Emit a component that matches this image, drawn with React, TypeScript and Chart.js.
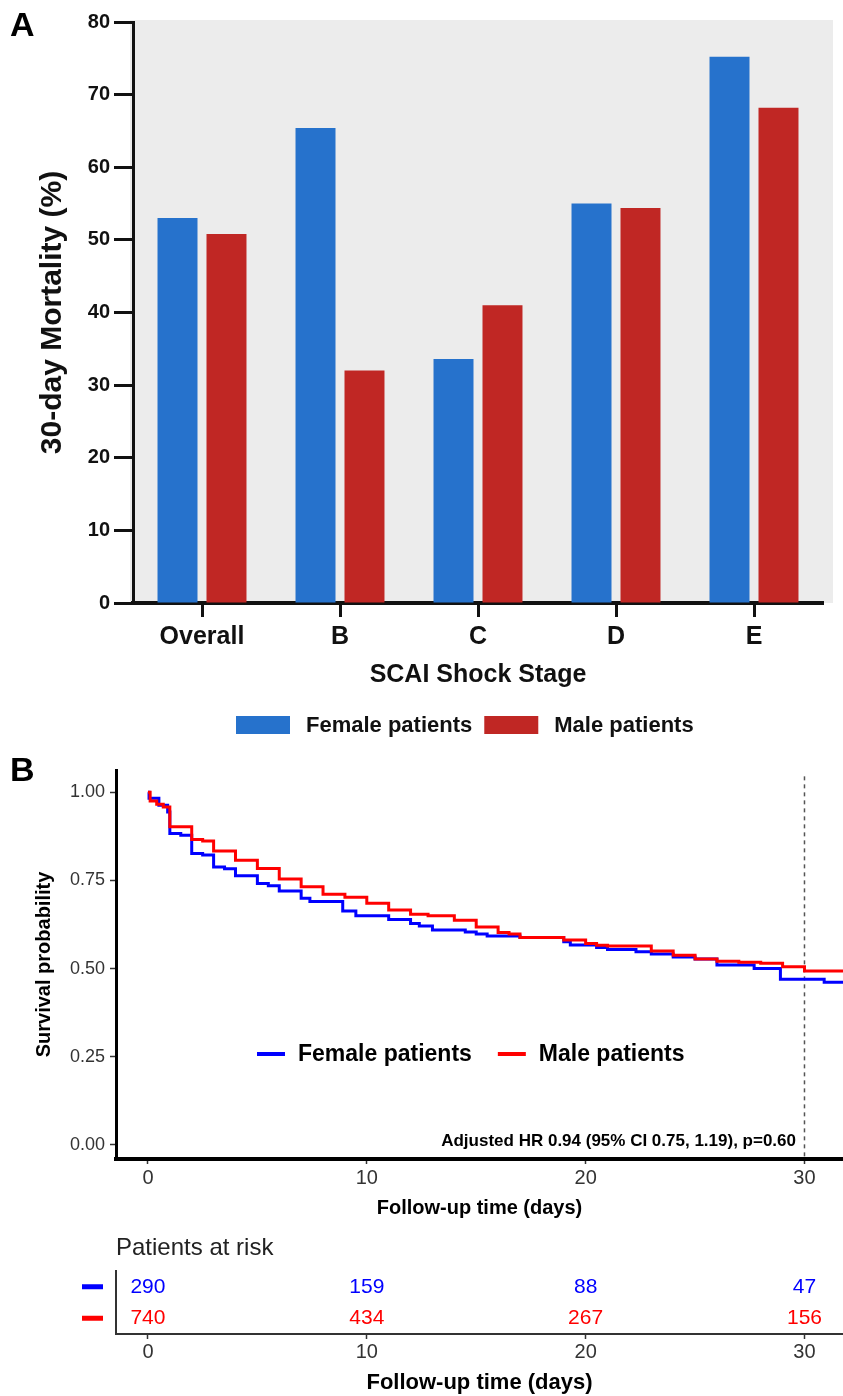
import React, { useEffect, useRef } from 'react';
import { Chart, registerables } from 'chart.js';

Chart.register(...registerables);

// ---------- Data ----------
const stages = ['Overall', 'B', 'C', 'D', 'E'];
const seriesNames = ['Female patients', 'Male patients'];
const femaleMortality = [53.0, 65.4, 33.6, 55.0, 75.2];
const maleMortality = [50.8, 32.0, 41.0, 54.4, 68.2];

const femaleDays = [0, 0.05, 0.5, 0.9, 1.0, 1.5, 2.0, 2.5, 3.0, 3.5, 4.0, 5.0, 5.5, 6.0, 7.0, 7.4, 8.9, 9.5, 11.0, 12.0, 12.4, 13.0, 14.5, 15.0, 15.5, 17.0, 19.0, 19.3, 20.5, 21.0, 22.3, 23.0, 24.0, 25.0, 26.0, 27.7, 28.9, 30.9, 31.76];
const femaleSurvival = [1.0, 0.983, 0.963, 0.944, 0.883, 0.878, 0.826, 0.822, 0.788, 0.783, 0.763, 0.741, 0.735, 0.72, 0.699, 0.69, 0.663, 0.65, 0.639, 0.628, 0.621, 0.609, 0.604, 0.598, 0.592, 0.588, 0.576, 0.567, 0.56, 0.554, 0.548, 0.541, 0.533, 0.527, 0.51, 0.5, 0.47, 0.461, 0.461];
const maleDays = [0, 0.1, 0.4, 0.7, 1.0, 2.0, 2.5, 3.0, 4.0, 5.0, 6.0, 7.0, 8.0, 9.0, 10.0, 11.0, 12.0, 12.8, 14.0, 15.0, 16.0, 16.5, 17.0, 19.0, 20.0, 20.5, 21.0, 23.0, 24.0, 25.0, 26.0, 27.0, 28.0, 29.0, 30.0, 31.76];
const maleSurvival = [1.0, 0.975, 0.966, 0.958, 0.902, 0.866, 0.862, 0.833, 0.807, 0.784, 0.754, 0.732, 0.711, 0.702, 0.685, 0.666, 0.654, 0.65, 0.637, 0.618, 0.602, 0.598, 0.588, 0.581, 0.571, 0.566, 0.564, 0.55, 0.538, 0.527, 0.521, 0.518, 0.515, 0.505, 0.493, 0.493];

const riskDays = [0, 10, 20, 30];
const femaleAtRisk = [290, 159, 88, 47];
const maleAtRisk = [740, 434, 267, 156];
const survivalTicks = [0, 0.25, 0.5, 0.75, 1.0];
const cutoffDay = [30];
const hrText = 'Adjusted HR 0.94 (95% CI 0.75, 1.19), p=0.60';

// ---------- Styles ----------
const FONT = "'Liberation Sans', Arial, sans-serif";
const BAR_BLUE = '#2672CC';
const BAR_RED = '#C02724';
const KM_BLUE = '#0000FF';
const KM_RED = '#FF0000';

Chart.defaults.font.family = FONT;

const panelLetter = (letter: string, y: number) => ({
  id: 'panelLetter' + letter,
  afterDraw(chart: any) {
    const ctx = chart.ctx;
    ctx.save();
    ctx.font = `bold 34px ${FONT}`;
    ctx.fillStyle = '#000';
    ctx.textBaseline = 'middle';
    ctx.textAlign = 'left';
    ctx.fillText(letter, 10, y);
    ctx.restore();
  },
});

const barBackground = {
  id: 'barBackground',
  beforeDraw(chart: any) {
    const { ctx, chartArea } = chart;
    ctx.save();
    ctx.fillStyle = '#ECECEC';
    ctx.fillRect(chartArea.left - 3, chartArea.top - 2, chartArea.right + 10 - chartArea.left + 3, chartArea.bottom - chartArea.top + 2);
    ctx.restore();
  },
};

const barLegend = {
  id: 'barLegend',
  afterDraw(chart: any) {
    const ctx = chart.ctx;
    ctx.save();
    ctx.font = `bold 22px ${FONT}`;
    ctx.textBaseline = 'middle';
    let x = 236;
    const y = 725;
    chart.data.datasets.forEach((ds: any) => {
      ctx.fillStyle = ds.backgroundColor;
      ctx.fillRect(x, y - 9, 54, 18);
      ctx.fillStyle = '#111';
      ctx.fillText(ds.label, x + 70, y + 1);
      x += 70 + ctx.measureText(ds.label).width + 12;
    });
    ctx.restore();
  },
};

const kmLegend = {
  id: 'kmLegend',
  afterDraw(chart: any) {
    const ctx = chart.ctx;
    ctx.save();
    ctx.font = `bold 23px ${FONT}`;
    ctx.textBaseline = 'middle';
    let x = 257;
    const y = 314;
    chart.data.datasets.slice(0, 2).forEach((ds: any) => {
      ctx.strokeStyle = ds.borderColor;
      ctx.lineWidth = 4;
      ctx.beginPath();
      ctx.moveTo(x, y);
      ctx.lineTo(x + 28, y);
      ctx.stroke();
      ctx.fillStyle = '#000';
      ctx.fillText(ds.label, x + 41, y + 1);
      x += 41 + ctx.measureText(ds.label).width + 26;
    });
    ctx.font = `bold 17px ${FONT}`;
    ctx.textAlign = 'right';
    ctx.fillText(hrText, 796, 401);
    ctx.restore();
  },
};

const riskTable = {
  id: 'riskTable',
  afterDatasetsDraw(chart: any) {
    const ctx = chart.ctx;
    ctx.save();
    ctx.textAlign = 'center';
    ctx.textBaseline = 'middle';
    chart.data.datasets.forEach((ds: any, i: number) => {
      const meta = chart.getDatasetMeta(i);
      ctx.font = `21px ${FONT}`;
      ctx.fillStyle = ds.borderColor;
      meta.data.forEach((el: any, j: number) => {
        ctx.fillText(String(ds.data[j].n), el.x, el.y);
      });
      // colour key left of the table
      const y = chart.scales.y.getPixelForValue(i);
      ctx.strokeStyle = ds.borderColor;
      ctx.lineWidth = 5;
      ctx.beginPath();
      ctx.moveTo(82, y);
      ctx.lineTo(103, y);
      ctx.stroke();
    });
    ctx.textAlign = 'left';
    ctx.fillStyle = '#222';
    ctx.font = `24px ${FONT}`;
    ctx.fillText('Patients at risk', 116, 23);
    ctx.restore();
  },
};

export default function App() {
  const refA = useRef<HTMLCanvasElement>(null);
  const refB = useRef<HTMLCanvasElement>(null);
  const refC = useRef<HTMLCanvasElement>(null);

  useEffect(() => {
    document.body.style.margin = '0';

    const chartA = new Chart(refA.current!, {
      type: 'bar',
      data: {
        labels: stages,
        datasets: [
          { label: seriesNames[0], data: femaleMortality, backgroundColor: BAR_BLUE, barPercentage: 0.816, categoryPercentage: 0.71 },
          { label: seriesNames[1], data: maleMortality, backgroundColor: BAR_RED, barPercentage: 0.816, categoryPercentage: 0.71 },
        ],
      },
      options: {
        animation: false,
        responsive: false,
        maintainAspectRatio: false,
        layout: { padding: { top: 22, right: 20, left: 0, bottom: 0 } },
        plugins: { legend: { display: false }, tooltip: { enabled: false } },
        scales: {
          x: {
            offset: true,
            grid: { display: true, drawOnChartArea: false, offset: false, tickLength: 14, tickWidth: 3, color: '#111' },
            border: { display: true, width: 4, color: '#111' },
            ticks: { padding: 5, color: '#111', font: { size: 25, weight: 'bold' } },
            title: { display: true, text: 'SCAI Shock Stage', color: '#111', font: { size: 25, weight: 'bold' }, padding: { top: 0, bottom: 50 } },
            afterFit: (s: any) => { s.height = 137; },
          },
          y: {
            min: 0,
            max: 80,
            ticks: { stepSize: 10, padding: 4, color: '#111', font: { size: 20, weight: 'bold' } },
            grid: { display: true, drawOnChartArea: false, tickLength: 19, tickWidth: 3, color: '#111' },
            border: { display: true, width: 3, color: '#111' },
            title: { display: true, text: '30-day Mortality (%)', color: '#111', font: { size: 30, weight: 'bold' }, padding: { top: 35, bottom: 0 } },
            afterFit: (s: any) => { s.width = 133; },
          },
        },
      } as any,
      plugins: [barBackground, barLegend, panelLetter('A', 27)],
    });

    const toPoints = (xs: number[], ys: number[]) => xs.map((x, i) => ({ x, y: ys[i] }));

    const chartB = new Chart(refB.current!, {
      type: 'line',
      data: {
        datasets: [
          { label: seriesNames[0], data: toPoints(femaleDays, femaleSurvival), borderColor: KM_BLUE, borderWidth: 3, pointRadius: 0, stepped: true, order: 2 },
          { label: seriesNames[1], data: toPoints(maleDays, maleSurvival), borderColor: KM_RED, borderWidth: 3, pointRadius: 0, stepped: true, order: 1 },
          { label: '30 days', data: [{ x: cutoffDay[0], y: 1.045 }, { x: cutoffDay[0], y: -0.04 }], borderColor: '#555', borderWidth: 1.5, borderDash: [4, 4], pointRadius: 0, order: 3 },
        ],
      },
      options: {
        animation: false,
        responsive: false,
        maintainAspectRatio: false,
        layout: { padding: { top: 30, right: 0, left: 0, bottom: 0 } },
        plugins: { legend: { display: false }, tooltip: { enabled: false } },
        scales: {
          x: {
            type: 'linear',
            min: -1.46,
            max: 31.76,
            afterBuildTicks: (s: any) => { s.ticks = riskDays.map((v) => ({ value: v })); },
            ticks: { padding: 2, color: '#333', font: { size: 20 } },
            grid: { display: true, drawOnChartArea: false, tickLength: 5, tickWidth: 1.5, color: '#333' },
            border: { display: true, width: 4, color: '#000' },
            title: { display: true, text: 'Follow-up time (days)', color: '#000', font: { size: 20, weight: 'bold' }, padding: { top: 0, bottom: 5 } },
            afterFit: (s: any) => { s.height = 66; },
          },
          y: {
            type: 'linear',
            min: -0.04,
            max: 1.063,
            afterBuildTicks: (s: any) => { s.ticks = survivalTicks.map((v) => ({ value: v })); },
            ticks: { padding: 5, color: '#333', font: { size: 18 }, callback: (v: any) => Number(v).toFixed(2) },
            grid: { display: true, drawOnChartArea: false, tickLength: 6, tickWidth: 1.5, color: '#333' },
            border: { display: true, width: 3, color: '#000' },
            title: { display: true, text: 'Survival probability', color: '#000', font: { size: 20, weight: 'bold' }, padding: { top: 32, bottom: 0 } },
            afterFit: (s: any) => { s.width = 116; },
          },
        },
      } as any,
      plugins: [kmLegend, panelLetter('B', 32)],
    });

    const chartC = new Chart(refC.current!, {
      type: 'scatter',
      data: {
        datasets: [
          { label: seriesNames[0], data: riskDays.map((d, j) => ({ x: d, y: seriesNames[0], n: femaleAtRisk[j] })), borderColor: KM_BLUE, backgroundColor: KM_BLUE, pointRadius: 0 },
          { label: seriesNames[1], data: riskDays.map((d, j) => ({ x: d, y: seriesNames[1], n: maleAtRisk[j] })), borderColor: KM_RED, backgroundColor: KM_RED, pointRadius: 0 },
        ],
      },
      options: {
        animation: false,
        responsive: false,
        maintainAspectRatio: false,
        layout: { padding: { top: 46, right: 0, left: 0, bottom: 0 } },
        plugins: { legend: { display: false }, tooltip: { enabled: false } },
        scales: {
          x: {
            type: 'linear',
            min: -1.46,
            max: 31.76,
            afterBuildTicks: (s: any) => { s.ticks = riskDays.map((v) => ({ value: v })); },
            ticks: { padding: 1, color: '#333', font: { size: 20 } },
            grid: { display: true, drawOnChartArea: false, tickLength: 5, tickWidth: 1.5, color: '#333' },
            border: { display: true, width: 2, color: '#333' },
            title: { display: true, text: 'Follow-up time (days)', color: '#000', font: { size: 22, weight: 'bold' }, padding: { top: 0, bottom: 0 } },
            afterFit: (s: any) => { s.height = 62; },
          },
          y: {
            type: 'category',
            labels: seriesNames,
            offset: true,
            ticks: { display: false },
            grid: { display: false },
            border: { display: true, width: 2, color: '#333' },
            afterFit: (s: any) => { s.width = 116; },
          },
        },
      } as any,
      plugins: [riskTable],
    });

    return () => {
      chartA.destroy();
      chartB.destroy();
      chartC.destroy();
    };
  }, []);

  return (
    <div style={{ position: 'relative', width: 843, height: 1396, background: '#fff' }}>
      <canvas ref={refA} width={843} height={740} style={{ position: 'absolute', left: 0, top: 0, display: 'block' }} />
      <canvas ref={refB} width={843} height={485} style={{ position: 'absolute', left: 0, top: 740, display: 'block' }} />
      <canvas ref={refC} width={843} height={171} style={{ position: 'absolute', left: 0, top: 1225, display: 'block' }} />
    </div>
  );
}
